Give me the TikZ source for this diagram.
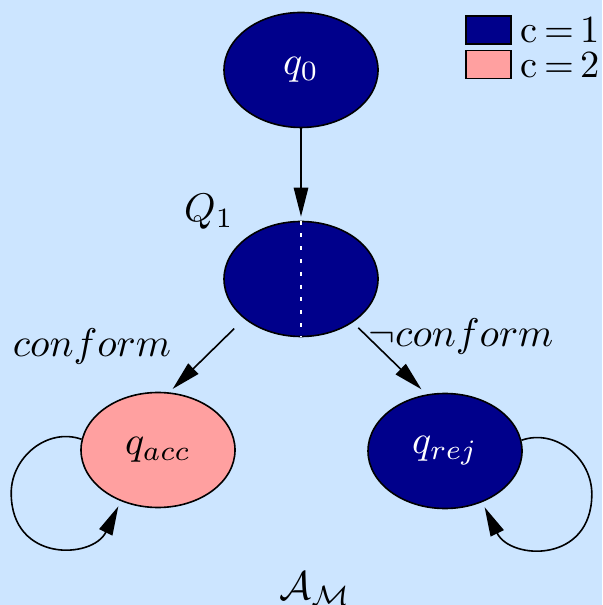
\documentclass[tikz,border=0pt]{standalone}
\usepackage{amsmath, amssymb}
\usepackage{tikz}
\definecolor{AMbg}{RGB}{204,229,255}
\definecolor{AMnavy}{HTML}{00008B}
\definecolor{AMpink}{HTML}{FFA0A0}
\usetikzlibrary{arrows.meta, shapes.geometric}

\begin{document}
\begin{tikzpicture}[x=0.25pt, y=-0.25pt,
  state/.style={ellipse, draw=black, fill=AMnavy, text=white,
    minimum width=38.5pt, minimum height=28.75pt, inner sep=0pt},
  accstate/.style={state, fill=AMpink, text=black},
  arr/.style={-{Triangle[length=7.25pt, width=3.6pt]}, black},
  keybox/.style={draw=black, minimum width=11.25pt, minimum height=7pt, inner sep=0pt},
  keytext/.style={anchor=west, inner sep=0pt, font=\fontsize{9.6}{11}\selectfont}]
  % diagrams/acceptor.tex
% Acceptor automaton A_M with its two colour classes

  % Background (also fixes the bounding box)
  \fill[AMbg] (0,0) rectangle (602,605);
  \useasboundingbox (0,0) rectangle (602,605);

  % States
  \node[state] (q0) at (301,70) {$q_0$};
  \node[state] (Q1) at (301,279) {};
  \draw[white, dash pattern=on 1pt off 2.2pt] (Q1.north) -- (Q1.south);
  \node (Q1name) at (209,212) {$Q_1$};
  \node[accstate] (qacc) at (158,450) {$q_{acc}$};
  \node[state] (qrej) at (445,451) {$q_{rej}$};

  % Transitions
  \draw[arr, shorten >=1pt] (q0) -- (Q1);
  \draw[arr, shorten <=3.5pt, shorten >=1.2pt] (Q1.215) -- (qacc.79);
  \draw[arr, shorten <=1.9pt, shorten >=1.8pt] (Q1.320) -- (qrej.108);
  \node (conf) at (92,347) {$conform$};
  \node (nconf) at (461,337) {$\neg conform$};

  % Self loops
  \draw[arr, shorten >=1.4pt]
    (qacc.172) .. controls +(-34,-12) and +(0,-36) .. ([shift={(-69,43)}]qacc.west)
    .. controls +(0,70) and +(-28,58) .. (qacc.234);
  \draw[arr, shorten >=1.4pt]
    (qrej.8) .. controls +(34,-12) and +(0,-36) .. ([shift={(69,43)}]qrej.east)
    .. controls +(0,70) and +(28,58) .. (qrej.306);

  % Automaton name
  \node (name) at (315,589) {$\mathcal{A}_{\mathcal{M}}$};

  % Legend
  \node[keybox, fill=AMnavy] (key1) at (488.5,30) {};
  \node[keytext] (key1txt) at (520,30) {c\,=\,1};
  \node[keybox, fill=AMpink] (key2) at (488.5,64.5) {};
  \node[keytext] (key2txt) at (520,65) {c\,=\,2};

  \end{tikzpicture}
\end{document}
